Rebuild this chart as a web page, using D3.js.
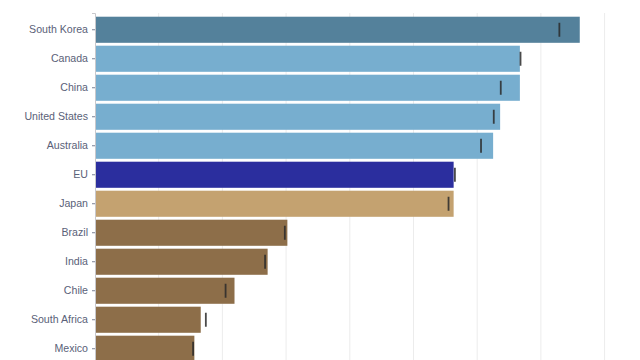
<!DOCTYPE html>
<html><head><meta charset="utf-8">
<script src="https://cdn.jsdelivr.net/npm/d3@7"></script>
<style>
html,body{margin:0;padding:0;background:#fff;overflow:hidden;}
svg{display:block;font-family:"Liberation Sans",Arial,Helvetica,sans-serif;}
</style></head>
<body>
<svg id="chart" width="640" height="360"></svg>
<script>
const categories = ["South Korea","Canada","China","United States","Australia","EU","Japan","Brazil","India","Chile","South Africa","Mexico"];
const values = [7.61, 6.67, 6.67, 6.36, 6.25, 5.63, 5.63, 3.02, 2.71, 2.19, 1.66, 1.56];
const markers = [7.29, 6.68, 6.37, 6.26, 6.06, 5.65, 5.55, 2.98, 2.67, 2.05, 1.74, 1.54];
const groups = ["top","high","high","high","high","eu","japan","low","low","low","low","low"];
const gridTicks = [1,2,3,4,5,6,7,8];

const colors = {top:"#54819b", high:"#77aecf", eu:"#2b2e9e", japan:"#c4a270", low:"#8d6e49"};

const svg = d3.select("#chart");
const x = d3.scaleLinear().domain([0,8]).range([95,604.6]);
const y = d3.scaleBand().domain(categories).range([13,365.5]).paddingInner(0.1).paddingOuter(0.128);

// gridlines
svg.append("g").selectAll("line").data(gridTicks).join("line")
  .attr("x1",d=>x(d)).attr("x2",d=>x(d))
  .attr("y1",13).attr("y2",360)
  .attr("stroke","#ececec").attr("stroke-width",1);

// bars
svg.append("g").selectAll("rect").data(categories).join("rect")
  .attr("x",x(0))
  .attr("y",d=>y(d))
  .attr("width",(d,i)=>x(values[i])-x(0))
  .attr("height",y.bandwidth())
  .attr("fill",(d,i)=>colors[groups[i]]);

// markers
svg.append("g").selectAll("line").data(categories).join("line")
  .attr("x1",(d,i)=>x(markers[i])).attr("x2",(d,i)=>x(markers[i]))
  .attr("y1",d=>y(d)+y.bandwidth()/2-7)
  .attr("y2",d=>y(d)+y.bandwidth()/2+7)
  .attr("stroke","#2a2a2a").attr("stroke-opacity",0.85).attr("stroke-width",1.8);

// y axis
const ax = svg.append("g").attr("transform",`translate(${x(0)},0)`)
  .call(d3.axisLeft(y).tickSize(3).tickPadding(4));
ax.select(".domain").attr("stroke","#c8c8cc");
ax.selectAll(".tick line").attr("stroke","#7a8094");
ax.selectAll(".tick text").attr("fill","#5a6178").attr("font-size","10.6px")
  .attr("font-family","'Liberation Sans',Arial,sans-serif");
</script>
</body></html>
